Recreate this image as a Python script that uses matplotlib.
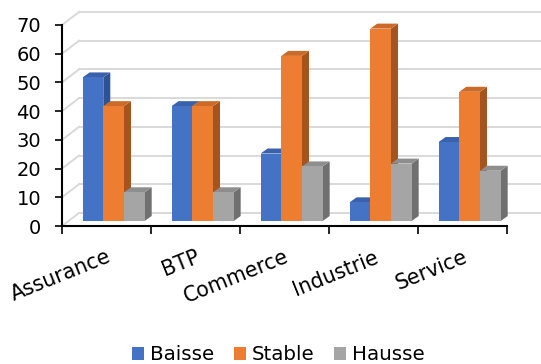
import matplotlib
matplotlib.use("Agg")
import matplotlib.pyplot as plt
from matplotlib.patches import Polygon, Patch
import numpy as np

categories = ["Assurance", "BTP", "Commerce", "Industrie", "Service"]
series_names = ["Baisse", "Stable", "Hausse"]
baisse = [50, 40, 23.5, 6.5, 27.5]
stable = [40, 40, 57.5, 67, 45]
hausse = [10, 10, 19, 20, 17.5]
y_ticks = [0, 10, 20, 30, 40, 50, 60, 70]

values = [baisse, stable, hausse]
front_cols = ["#4472C4", "#ED7D31", "#A5A5A5"]
top_cols = ["#3A62AC", "#CC6A28", "#8E8E8E"]
side_cols = ["#2F5391", "#A5541D", "#707070"]

plt.rcParams['font.family'] = ['DejaVu Sans']
fig = plt.figure(figsize=(5.41, 3.64), dpi=100)
W, H = 541, 364
L, R, T, B = 62, 507, 25, 226
ax = fig.add_axes([L / W, (H - B) / H, (R - L) / W, (B - T) / H])
ax.set_xlim(0, 5)
ax.set_ylim(0, 70)

pxx = (R - L) / 5.0
pxy = (B - T) / 70.0
DX = 17 / pxx
DY = 13 / pxy

grid_c = "#D9D9D9"
x_right = (W - L) / pxx
for v in y_ticks:
    ax.plot([0, DX], [v, v + DY], color=grid_c, lw=1.4, clip_on=False, zorder=1)
    ax.plot([DX, x_right], [v + DY, v + DY], color=grid_c, lw=1.4, clip_on=False, zorder=1)

# bars
f0 = 0.42
bx0 = f0 * DX
by0 = 5 / pxy
bw = 20.7 / pxx
sdx = 7 / pxx
sdy = 5 / pxy
z = 3
for i in range(len(categories)):
    start = i + 0.5 - 1.5 * bw + bx0
    for s in range(3):
        v = values[s][i]
        x0 = start + s * bw
        x1 = x0 + bw
        y0 = by0
        y1 = by0 + v
        side = Polygon([[x1, y0], [x1 + sdx, y0 + sdy], [x1 + sdx, y1 + sdy], [x1, y1]],
                       closed=True, fc=side_cols[s], ec='none', zorder=z, clip_on=False)
        top = Polygon([[x0, y1], [x1, y1], [x1 + sdx, y1 + sdy], [x0 + sdx, y1 + sdy]],
                      closed=True, fc=top_cols[s], ec='none', zorder=z, clip_on=False)
        front = Polygon([[x0, y0], [x1, y0], [x1, y1], [x0, y1]],
                        closed=True, fc=front_cols[s], ec='none', zorder=z, clip_on=False)
        ax.add_patch(side)
        ax.add_patch(top)
        ax.add_patch(front)
        z += 1

for sp in ['top', 'right']:
    ax.spines[sp].set_visible(False)
ax.spines['left'].set_linewidth(1.5)
ax.spines['bottom'].set_linewidth(1.5)
ax.spines['left'].set_zorder(50)
ax.spines['bottom'].set_zorder(50)

ax.set_yticks(y_ticks)
ax.set_yticklabels([str(v) for v in y_ticks], fontsize=14)
ax.tick_params(axis='y', length=5, width=1.2, pad=10, direction='out')

ax.set_xticks(np.arange(5) + 0.5)
ax.set_xticklabels(categories, fontsize=14.8, rotation=22, ha='right', va='top',
                   rotation_mode='anchor')
ax.tick_params(axis='x', which='major', length=0, pad=15)
ax.set_xticks(np.arange(6), minor=True)
ax.tick_params(axis='x', which='minor', length=6, width=1.2, direction='out')
ax.patch.set_alpha(0)

handles = [Patch(fc=c, ec='none') for c in front_cols]
fig.legend(handles, series_names, loc='lower center', bbox_to_anchor=(0.515, -0.05),
           ncol=3, frameon=False, fontsize=14.3, handlelength=0.6, handleheight=0.6,
           handletextpad=0.3, columnspacing=1.0)

fig.savefig("out.png", dpi=100)
